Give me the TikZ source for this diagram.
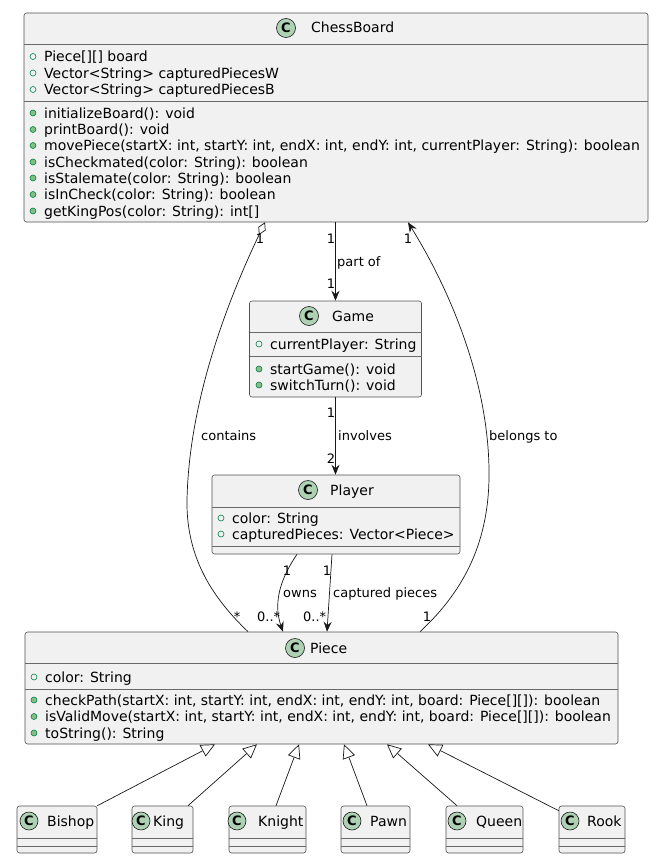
\documentclass[tikz,border=0pt]{standalone}
\usepackage{fontspec}
\setmainfont{DejaVu Sans}
\usetikzlibrary{arrows.meta}
\definecolor{boxfill}{HTML}{F1F1F1}
\definecolor{boxline}{HTML}{181818}
\definecolor{cfill}{HTML}{ADD1B2}
\definecolor{visline}{HTML}{038048}
\definecolor{visfill}{HTML}{84BE84}
\newcommand\umlfld[4]{\draw[fieldmark] (#2-11,#3) circle (3pt); \node[member] (#1) at (#2,#3+5) {#4};}
\newcommand\umlmth[4]{\draw[methodmark] (#2-11,#3) circle (3pt); \node[member] (#1) at (#2,#3+5) {#4};}
\begin{document}
\begin{tikzpicture}[x=1pt,y=-1pt,
 classbox/.style={draw=boxline!75, fill=boxfill, rounded corners=2.5pt, line width=0.6pt, inner sep=0pt},
 divider/.style={draw=boxline!65, line width=0.6pt},
 cmark/.style={circle, draw=boxline, fill=cfill, line width=0.6pt, minimum size=19pt, inner sep=0pt, font=\bfseries\fontsize{13}{13}\selectfont},
 smark/.style={cmark, minimum size=18pt},
 ctitle/.style={anchor=base west, inner sep=0pt, font=\fontsize{14}{16}\selectfont},
 member/.style={anchor=base west, inner sep=0pt, font=\fontsize{14}{16}\selectfont},
 fieldmark/.style={draw=visline, fill=none, line width=0.6pt},
 methodmark/.style={draw=visline, fill=visfill, line width=0.6pt},
 lbl/.style={inner sep=0pt, font=\fontsize{13}{13}\selectfont},
 lblw/.style={lbl, anchor=base west},
 lblc/.style={lbl, anchor=base},
 conn/.style={draw=boxline, line width=0.7pt},
 assoc/.style={conn, -{Stealth[length=10pt,width=8pt,inset=3.5pt]}},
 aggr/.style={conn, {Diamond[length=14pt,width=8pt,fill=white]}-},
 inherit/.style={conn, -{Triangle[length=14pt,width=13pt,fill=white]}}
]
\fill[white] (0,0) rectangle (667,867);
\useasboundingbox (0,0) rectangle (667,867);

% ChessBoard
\node[classbox, minimum width=624pt, minimum height=209pt] (cb) at (336,117.5) {};
\draw[divider] (24,44) -- (648,44);
\draw[divider] (24,101) -- (648,101);
\node[cmark] (cb-c) at (286,28) {C};
\node[ctitle] (cb-t) at (311,33) {ChessBoard};
\umlfld{cb-f1}{44}{56.5}{Piece[][] board}
\umlfld{cb-f2}{44}{73}{Vector<String> capturedPiecesW}
\umlfld{cb-f3}{44}{89.5}{Vector<String> capturedPiecesB}
\umlmth{cb-m1}{44}{113}{initializeBoard(): void}
\umlmth{cb-m2}{44}{129.5}{printBoard(): void}
\umlmth{cb-m3}{44}{145.5}{movePiece(startX: int, startY: int, endX: int, endY: int, currentPlayer: String): boolean}
\umlmth{cb-m4}{44}{162}{isCheckmated(color: String): boolean}
\umlmth{cb-m5}{44}{178}{isStalemate(color: String): boolean}
\umlmth{cb-m6}{44}{194.5}{isInCheck(color: String): boolean}
\umlmth{cb-m7}{44}{211}{getKingPos(color: String): int[]}

% Game
\node[classbox, minimum width=172pt, minimum height=96pt] (game) at (335.5,349) {};
\draw[divider] (249.5,332) -- (421.5,332);
\draw[divider] (249.5,356) -- (421.5,356);
\node[cmark] (game-c) at (309,316) {C};
\node[ctitle] (game-t) at (332,321) {Game};
\umlfld{game-f1}{270}{344}{currentPlayer: String}
\umlmth{game-m1}{270}{369}{startGame(): void}
\umlmth{game-m2}{270}{385}{switchTurn(): void}

% Player
\node[classbox, minimum width=248pt, minimum height=79pt] (player) at (336,514.5) {};
\draw[divider] (212,507) -- (460,507);
\draw[divider] (212,546) -- (460,546);
\node[cmark] (player-c) at (308,490) {C};
\node[ctitle] (player-t) at (330,495) {Player};
\umlfld{player-f1}{232}{518}{color: String}
\umlfld{player-f2}{232}{534}{capturedPieces: Vector<Piece>}

% Piece
\node[classbox, minimum width=593pt, minimum height=112pt] (piece) at (321.5,688) {};
\draw[divider] (25,663) -- (618,663);
\draw[divider] (25,689) -- (618,689);
\node[cmark] (piece-c) at (295,648) {C};
\node[ctitle] (piece-t) at (310,653) {Piece};
\umlfld{piece-f1}{45}{677}{color: String}
\umlmth{piece-m1}{45}{700}{checkPath(startX: int, startY: int, endX: int, endY: int, board: Piece[][]): boolean}
\umlmth{piece-m2}{45}{716.5}{isValidMove(startX: int, startY: int, endX: int, endY: int, board: Piece[][]): boolean}
\umlmth{piece-m3}{45}{733}{toString(): String}

% Subclasses
\node[classbox, minimum width=80pt, minimum height=47pt] (bishop) at (57,829.5) {};
\node[classbox, minimum width=61pt, minimum height=47pt] (king) at (162.5,829.5) {};
\node[classbox, minimum width=77pt, minimum height=47pt] (knight) at (267.5,829.5) {};
\node[classbox, minimum width=69pt, minimum height=47pt] (pawn) at (375.5,829.5) {};
\node[classbox, minimum width=77pt, minimum height=47pt] (queen) at (484.5,829.5) {};
\node[classbox, minimum width=66pt, minimum height=47pt] (rook) at (592,829.5) {};
\foreach \l/\r in {17/97,132/193,229/306,341/410,446/523,559/625}{
  \draw[divider] (\l,838) -- (\r,838);
  \draw[divider] (\l,846) -- (\r,846);
}
\node[smark] (bishop-c) at (29,821) {C};
\node[ctitle] (bishop-t) at (47,826) {Bishop};
\node[smark] (king-c) at (141,821) {C};
\node[ctitle] (king-t) at (153,826) {King};
\node[smark] (knight-c) at (237,821) {C};
\node[ctitle] (knight-t) at (258,826) {Knight};
\node[smark] (pawn-c) at (352,821) {C};
\node[ctitle] (pawn-t) at (370,826) {Pawn};
\node[smark] (queen-c) at (457,821) {C};
\node[ctitle] (queen-t) at (476,826) {Queen};
\node[smark] (rook-c) at (570,821) {C};
\node[ctitle] (rook-t) at (587,826) {Rook};

% Inheritance
\draw[inherit] (bishop.north east) -- ([xshift=-106.5pt]piece.south);
\draw[inherit] ([xshift=25.5pt]king.north) -- ([xshift=-64.5pt]piece.south);
\draw[inherit] ([xshift=8.5pt]knight.north) -- ([xshift=-22.5pt]piece.south);
\draw[inherit] ([xshift=-8.5pt]pawn.north) -- ([xshift=22.5pt]piece.south);
\draw[inherit] ([xshift=-27.5pt]queen.north) -- ([xshift=65.5pt]piece.south);
\draw[inherit] ([yshift=-5pt]rook.north west) -- ([xshift=106.5pt]piece.south);

% Associations
\draw[assoc] (cb.south -| game.north) -- (game.north);
\node[lblc] (l-po1) at (331,243) {1};
\node[lblw] (l-po) at (337,266) {part of};
\node[lblc] (l-po2) at (331,288) {1};

\draw[assoc] (game.south) -- (game.south |- player.north);
\node[lblc] (l-in1) at (331,417) {1};
\node[lblw] (l-in) at (338,440) {involves};
\node[lblc] (l-in2) at (331,463) {2};

\draw[aggr] ([xshift=-71pt]cb.south) .. controls (228,300) and (189,400) .. (187,500)
  .. controls (186,560) and (215,600) .. ([xshift=-73.5pt]piece.north);
\node[lblc] (l-co1) at (260,243) {1};
\node[lblw] (l-co) at (201,440) {contains};
\node[lblc] (l-co2) at (237,621) {*};

\draw[assoc] ([xshift=98.5pt]piece.north) .. controls (465,590) and (490,540) .. (489,470)
  .. controls (488,380) and (450,290) .. ([xshift=72pt]cb.south);
\node[lblc] (l-be1) at (408,243) {1};
\node[lblw] (l-be) at (489,440) {belongs to};
\node[lblc] (l-be2) at (427,621) {1};

\draw[assoc] ([xshift=-39pt]player.south) .. controls (283,575) and (272,600) .. ([xshift=-38.5pt]piece.north);
\node[lblc] (l-ow1) at (287,575) {1};
\node[lblw] (l-ow) at (283,597) {owns};
\node[lblw] (l-ow2) at (257,621) {0..*};

\draw[assoc] ([xshift=-4pt]player.south) -- ([xshift=5.5pt]piece.north);
\node[lblc] (l-ca1) at (327,575) {1};
\node[lblw] (l-ca) at (333,597) {captured pieces};
\node[lblw] (l-ca2) at (303,621) {0..*};
\end{tikzpicture}
\end{document}
